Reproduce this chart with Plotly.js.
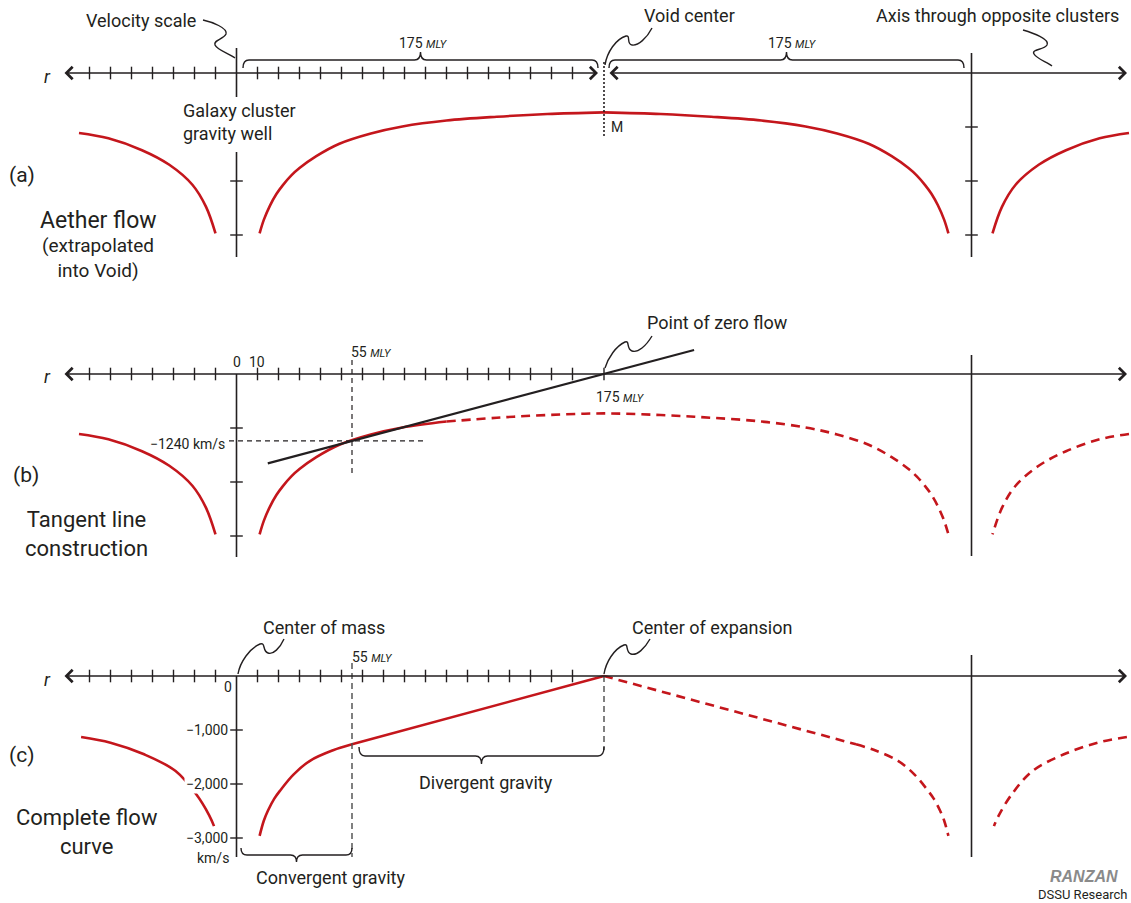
<!DOCTYPE html>
<html>
<head>
<meta charset="utf-8">
<script src="https://cdn.plot.ly/plotly-3.0.1.min.js"></script>
<style>
  html, body { margin: 0; padding: 0; background: #fff; }
  #graph { width: 1131px; height: 903px; }
</style>
</head>
<body>
<div id="graph"></div>
<script>
// Cluster positions on the r axis (MLY) and the void center between them
const clusterR = [0, 350];
const voidR = 175;
const tangentR = 55;
const tangentV = -1240;

// Tick marks along the r axis (every 10 MLY) and on the velocity scale (km/s)
const tickR = [-70, -60, -50, -40, -30, -20, -10, 10, 20, 30, 40, 50, 60, 70, 80, 90, 100, 110, 120, 130, 140, 150, 160];
const velTickV = [-1000, -2000, -3000];
const velTickLabels = ['\u22121,000', '\u22122,000', '\u22123,000'];

// Aether flow inside the void: distance from cluster (MLY) -> km/s
const wellR = [11, 13, 16, 19, 22, 26, 30, 38, 49, 64, 79, 100, 124, 148, 175];
const wellV = [-2970, -2720, -2450, -2240, -2080, -1900, -1760, -1540, -1310, -1120, -990, -880, -810, -760, -730];

// Flow on the outer side of the cluster (toward the neighbouring void)
const tailR = [-75, -61, -45, -32, -21, -14.5, -10];
const tailV = [-1110, -1210, -1430, -1700, -2070, -2480, -2970];

// Panel (c): convergent part, then the straight divergent part
const convR = [11, 13, 15, 18, 21, 27, 35, 46, 55];
const convV = [-2960, -2680, -2490, -2270, -2110, -1830, -1570, -1375, -1265];
const divR = [55, 175];
const divV = [-1265, 0];
const cTailR = [-74, -60, -44, -29, -19, -13, -10.7];
const cTailV = [-1130, -1235, -1450, -1760, -2200, -2580, -2780];

// Tangent line of panel (b)
const tanR = [14.9, 55, 175, 217.9];
const tanV = [-1654, -1240, 0, 444];

// ---- page geometry ----
const W = 1131, H = 903;
const X0 = 236.5;      // pixel of r = 0
const PXR = 2.1;       // pixels per MLY
const PXV = 0.054;     // pixels per km/s
const AXIS = [73, 374, 676];   // pixel row of each panel's r axis
const RED = '#c4161c';
const INK = '#231f20';
const FONT = 'Roboto, Arial, sans-serif';
const YN = ['y', 'y2', 'y3'];

const toR = x => (x - X0) / PXR;
const toV = (y, p) => (AXIS[p] - y) / PXV;
const toX = r => X0 + r * PXR;

// mirror a flow curve across the void center / opposite cluster
const mirror = arr => arr.map(r => 2 * voidR - r);

const traces = [];
function curve(p, xs, ys, opts) {
    opts = opts || {};
    traces.push({
        x: xs, y: ys, yaxis: YN[p], type: 'scatter', mode: 'lines',
        line: {
            color: opts.color || RED, width: opts.width || 2.6,
            dash: opts.dash || 'solid', shape: opts.straight ? 'linear' : 'spline'
        },
        hoverinfo: 'skip'
    });
}
function ticks(p, xs, ys, symbol) {
    traces.push({
        x: xs, y: ys, yaxis: YN[p], type: 'scatter', mode: 'markers',
        marker: { symbol: symbol, size: 9, line: { color: INK, width: 1.4 } },
        hoverinfo: 'skip'
    });
}
const DASH = '9px,6px';
const rev = a => a.slice().reverse();

// (a) aether flow, all solid
curve(0, tailR, tailV);
curve(0, wellR, wellV);
curve(0, rev(mirror(wellR)), rev(wellV));
curve(0, mirror(tailR), tailV);

// (b) solid near the cluster, dashed beyond
const cut = wellR.indexOf(100);
curve(1, tailR, tailV);
curve(1, wellR.slice(0, cut + 1), wellV.slice(0, cut + 1));
curve(1, wellR.slice(cut).concat(rev(mirror(wellR)).slice(1)), wellV.slice(cut).concat(rev(wellV).slice(1)), { dash: DASH });
curve(1, mirror(tailR), tailV, { dash: DASH });
curve(1, tanR, tanV, { color: INK, width: 2.2, straight: true });

// (c) complete flow curve
curve(2, cTailR, cTailV);
curve(2, convR, convV);
curve(2, divR, divV, { straight: true });
curve(2, rev(mirror(divR)), rev(divV), { dash: DASH, straight: true });
curve(2, rev(mirror(convR)), rev(convV), { dash: DASH });
curve(2, mirror(cTailR), cTailV, { dash: DASH });

// r-axis ticks
for (let p = 0; p < 3; p++) ticks(p, tickR, tickR.map(() => 0), 'line-ns');
ticks(1, [voidR], [0], 'line-ns');
// velocity scale ticks (the -1000 one in (a) sits behind the label)
ticks(0, velTickV.slice(1).map(() => clusterR[0]), velTickV.slice(1), 'line-ew');
ticks(0, velTickV.map(() => clusterR[1]), velTickV, 'line-ew');
ticks(1, velTickV.map(() => clusterR[0]), velTickV, 'line-ew');
ticks(2, velTickV.map(() => clusterR[0]), velTickV, 'line-ew');

// ---- shapes ----
const shapes = [];
function seg(p, r0, v0, r1, v1, color, width, dash) {
    shapes.push({
        type: 'line', xref: 'x', yref: YN[p], x0: r0, y0: v0, x1: r1, y1: v1,
        line: { color: color || INK, width: width || 1.6, dash: dash || 'solid' }
    });
}
// path written in pixels, converted to the panel's data units
function pathPx(p, d, width) {
    const tok = d.trim().split(/\s+/);
    let out = '';
    for (let i = 0; i < tok.length; i++) {
        if (/^[A-Za-z]$/.test(tok[i])) { out += tok[i] + ' '; continue; }
        out += toR(+tok[i]).toFixed(3) + ',' + toV(+tok[i + 1], p).toFixed(3) + ' ';
        i++;
    }
    shapes.push({ type: 'path', xref: 'x', yref: YN[p], path: out.trim(),
        line: { color: INK, width: width || 1.4 } });
}
function brace(p, r0, r1, yEnd, yFlat, yTip) {
    const x0 = toX(r0), x1 = toX(r1), xm = (x0 + x1) / 2, d = 6;
    pathPx(p, `M ${x0} ${yEnd} Q ${x0} ${yFlat} ${x0 + d} ${yFlat} L ${xm - d} ${yFlat} ` +
        `Q ${xm} ${yFlat} ${xm} ${yTip} Q ${xm} ${yFlat} ${xm + d} ${yFlat} ` +
        `L ${x1 - d} ${yFlat} Q ${x1} ${yFlat} ${x1} ${yEnd}`);
}

// cluster (velocity scale) lines
seg(0, clusterR[0], toV(48, 0), clusterR[0], toV(97, 0));
seg(0, clusterR[0], toV(152, 0), clusterR[0], toV(257, 0));
seg(0, clusterR[1], toV(53, 0), clusterR[1], toV(257, 0));
seg(1, clusterR[0], 0, clusterR[0], toV(557, 1));
seg(1, clusterR[1], toV(355, 1), clusterR[1], toV(556, 1));
seg(2, clusterR[0], 0, clusterR[0], toV(857, 2));
seg(2, clusterR[1], toV(655, 2), clusterR[1], toV(857, 2));

// guide lines
seg(0, voidR, toV(62, 0), voidR, toV(137, 0), INK, 1.6, '2px,2px');
seg(1, toR(229), tangentV, toR(423), tangentV, INK, 1.2, '5px,4px');
seg(1, tangentR, toV(360, 1), tangentR, toV(473, 1), INK, 1.2, '5px,4px');
seg(2, tangentR, toV(663, 2), tangentR, toV(857, 2), '#4a4a4a', 1.4, '6px,4px');
seg(2, voidR, 0, voidR, toV(750, 2), '#4a4a4a', 1.4, '6px,4px');

// braces
brace(0, toR(243), toR(598), 68, 60, 52);
brace(0, toR(609), toR(964), 68, 60, 52);
brace(2, toR(359), voidR, 747, 756, 764);
brace(2, toR(241), tangentR, 848, 855, 862);

// squiggly leaders
pathPx(0, 'M 203 20 C 212 22 228 28 226 34 C 224 39 213 40 215 45 C 217 50 230 54 235 58');
pathPx(0, 'M 652 28 C 647 38 638 46 632 45 C 626 44 631 35 626 36 C 616 39 607 52 605 65');
pathPx(0, 'M 1023 30 C 1033 33 1050 39 1047 45 C 1044 50 1031 49 1034 54 C 1037 59 1047 62 1052 66');
pathPx(1, 'M 652 336 C 646 346 638 353 632 351 C 626 349 630 340 625 342 C 616 346 608 358 605 368');
pathPx(2, 'M 284 639 C 280 648 273 655 268 653 C 262 651 266 642 260 644 C 250 648 240 662 238 674');
pathPx(2, 'M 650 639 C 645 648 637 656 631 654 C 625 652 629 643 624 645 C 614 649 606 662 604 674');

// ---- annotations ----
const annotations = [];
function label(p, x, y, text, size, opts) {
    opts = opts || {};
    annotations.push(Object.assign({
        xref: 'x', yref: YN[p], x: toR(x), y: toV(y, p), text: text, showarrow: false,
        xanchor: 'center', yanchor: 'middle',
        font: { family: FONT, size: size, color: INK }
    }, opts));
}
function axisArrow(p, xa, xb) {
    annotations.push({
        xref: 'x', yref: YN[p], axref: 'x', ayref: YN[p],
        x: toR(xb), y: 0, ax: toR(xa), ay: 0, text: '', showarrow: true,
        arrowside: 'end+start', arrowhead: 4, startarrowhead: 4,
        arrowsize: 1.6, startarrowsize: 1.6, arrowwidth: 1.5, arrowcolor: INK
    });
}
const mly = n => n + ' <i><span style="font-size:11px">MLY</span></i>';

axisArrow(0, 63, 598);
axisArrow(0, 608, 1127);
axisArrow(1, 63, 1127);
axisArrow(2, 63, 1127);
for (let p = 0; p < 3; p++) label(p, 47, AXIS[p] + 3, '<i>r</i>', 18);

// (a)
label(0, 141, 20, 'Velocity scale', 18);
label(0, 423, 43, mly(voidR - clusterR[0]), 14);
label(0, 792, 43, mly(clusterR[1] - voidR), 14);
label(0, 689, 15, 'Void center', 18);
label(0, 997, 15, 'Axis through opposite clusters', 18);
label(0, 181, 122, 'Galaxy cluster<br>gravity well', 18, { xanchor: 'left', align: 'left' });
label(0, 609, 127, 'M', 14, { xanchor: 'left' });
label(0, 22, 175, '(a)', 21);
label(0, 98, 220, 'Aether flow', 23);
label(0, 98, 258, '(extrapolated<br>into Void)', 19);

// (b)
label(1, 237, 362, String(clusterR[0]), 14);
label(1, 257, 362, String(tickR[7]), 14);
label(1, 371, 352, mly(tangentR), 14);
label(1, 620, 397, mly(voidR), 14);
label(1, 717, 323, 'Point of zero flow', 18);
label(1, 227, 444, '\u2212' + Math.abs(tangentV) + ' km/s', 14, { xanchor: 'right' });
label(1, 26, 475, '(b)', 21);
label(1, 86, 534, 'Tangent line<br>construction', 22);

// (c)
label(2, 324, 627, 'Center of mass', 18);
label(2, 372, 657, mly(tangentR), 14);
label(2, 234, 687, '0', 14, { xanchor: 'right' });
velTickV.forEach((v, i) => annotations.push({
    xref: 'x', yref: 'y3', x: toR(230), y: v, text: velTickLabels[i], showarrow: false,
    xanchor: 'right', yanchor: 'middle', bgcolor: '#fff', borderpad: 1,
    font: { family: FONT, size: 14, color: INK }
}));
label(2, 231, 858, 'km/s', 14, { xanchor: 'right' });
label(2, 22, 755, '(c)', 21);
label(2, 87, 832, 'Complete flow<br>curve', 22);
label(2, 486, 782, 'Divergent gravity', 18);
label(2, 330, 877, 'Convergent gravity', 18);
label(2, 712, 627, 'Center of expansion', 18);
label(2, 1084, 876, '<b><i>RANZAN</i></b>', 16, { font: { family: 'Liberation Sans Narrow, Arial', size: 16, color: '#8a8a8a' } });
label(2, 1082, 894, 'DSSU Research', 13);

// ---- layout ----
const yRange = [-(300 - 73) / PXV, 73 / PXV];
function yAxis(p) {
    const top = AXIS[p] - 73, bottom = top + 300;
    return {
        domain: [Math.max(0, 1 - bottom / H), 1 - top / H], range: yRange,
        visible: false, fixedrange: true, anchor: 'x'
    };
}
const layout = {
    width: W, height: H,
    margin: { l: 0, r: 0, t: 0, b: 0 },
    paper_bgcolor: '#fff', plot_bgcolor: '#fff',
    showlegend: false,
    xaxis: { range: [toR(0), toR(W)], visible: false, fixedrange: true, anchor: 'y' },
    yaxis: yAxis(0), yaxis2: yAxis(1), yaxis3: yAxis(2),
    shapes: shapes,
    annotations: annotations
};

Plotly.newPlot('graph', traces, layout, { staticPlot: true, displayModeBar: false });
</script>
</body>
</html>
